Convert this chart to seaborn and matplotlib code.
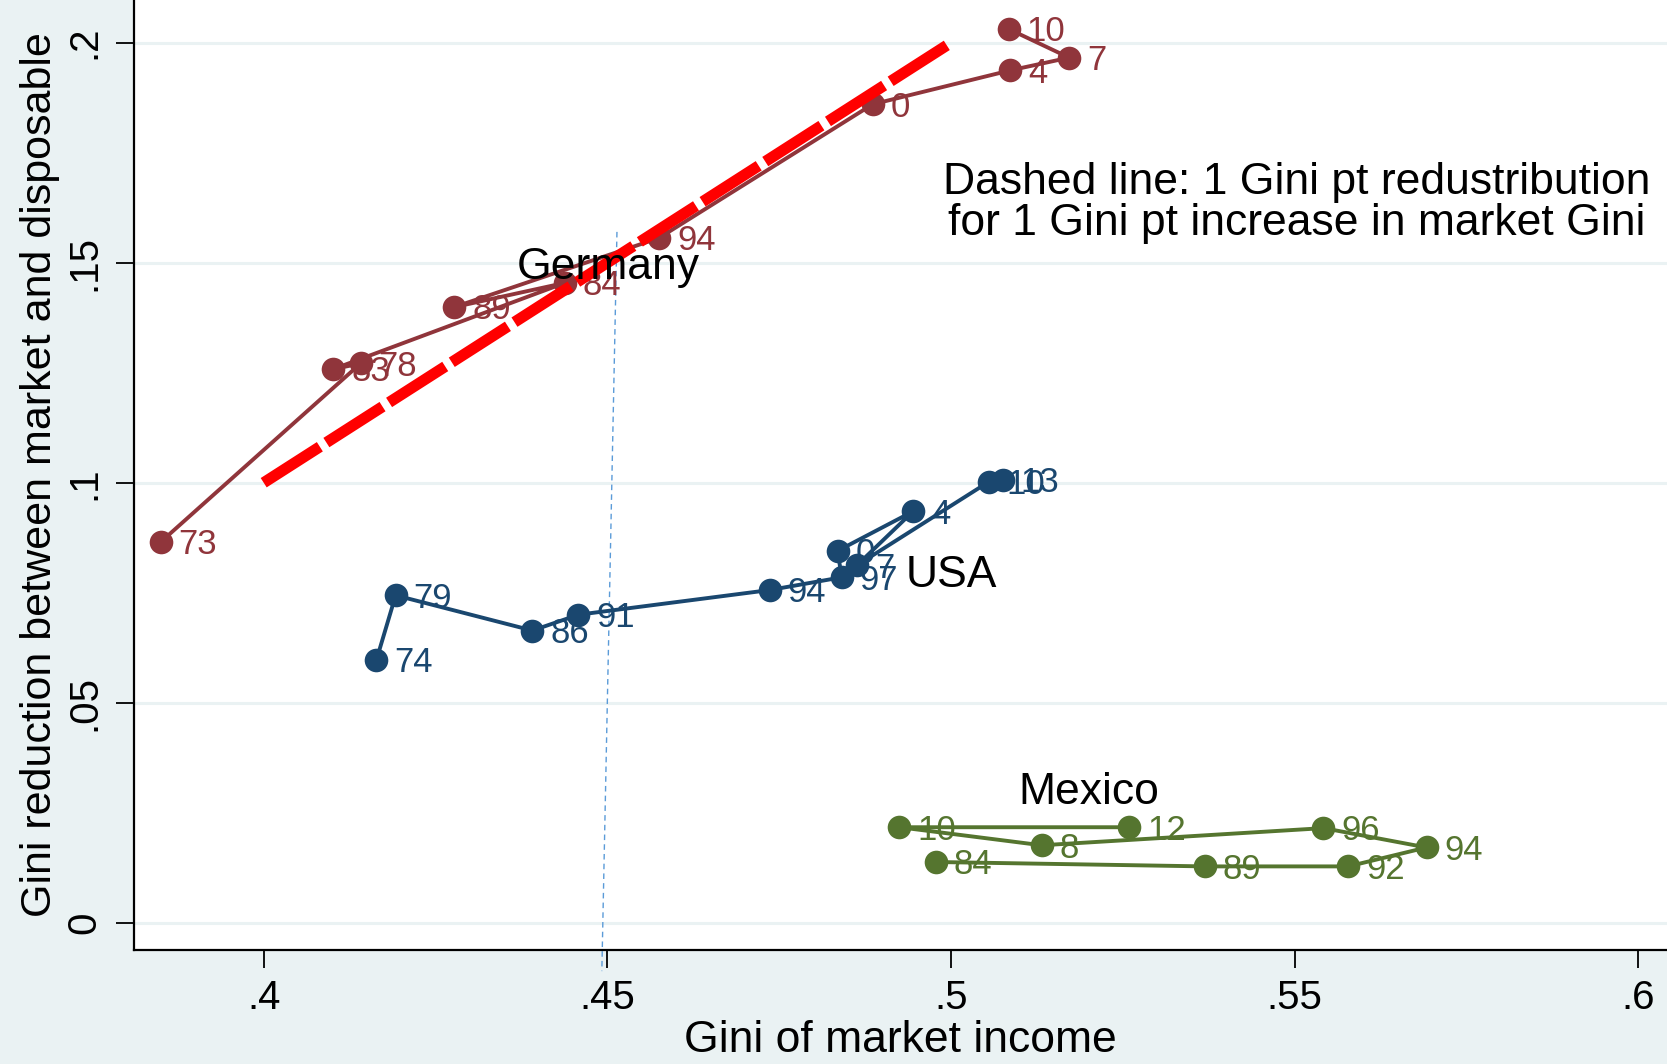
import pandas as pd
import numpy as np
import seaborn as sns
import matplotlib.pyplot as plt

# -------------------------------
# Data
# -------------------------------
germany_x = [0.3850, 0.4141, 0.4101, 0.4438, 0.4277, 0.4575, 0.4886, 0.5086, 0.5172, 0.5084]
germany_y = [0.0865, 0.1271, 0.1258, 0.1454, 0.1399, 0.1556, 0.1860, 0.1937, 0.1966, 0.2031]
germany_lab = ['73', '78', '83', '84', '89', '94', '0', '4', '7', '10']

usa_x = [0.4164, 0.4192, 0.4391, 0.4458, 0.4736, 0.4841, 0.4835, 0.4945, 0.4863, 0.5055, 0.5075]
usa_y = [0.0597, 0.0744, 0.0664, 0.0700, 0.0756, 0.0785, 0.0845, 0.0935, 0.0812, 0.1002, 0.1007]
usa_lab = ['74', '79', '86', '91', '94', '97', '0', '4', '7', '10', '13']

mexico_x = [0.4978, 0.5369, 0.5578, 0.5692, 0.5542, 0.5132, 0.4925, 0.5259]
mexico_y = [0.0138, 0.0128, 0.0128, 0.0171, 0.0215, 0.0176, 0.0217, 0.0217]
mexico_lab = ['84', '89', '92', '94', '96', '8', '10', '12']

# 1 Gini pt redistribution per 1 Gini pt market Gini
ref_x = [0.40, 0.50]
ref_y = [0.10, 0.20]

# thin blue guide line near .45
guide_x = [0.4514, 0.4492]
guide_y = [0.157, -0.011]

x_ticks = [0.4, 0.45, 0.5, 0.55, 0.6]
x_ticklabels = ['.4', '.45', '.5', '.55', '.6']
y_ticks = [0, 0.05, 0.1, 0.15, 0.2]
y_ticklabels = ['0', '.05', '.1', '.15', '.2']

colors = {'Germany': '#90353B', 'USA': '#1A476F', 'Mexico': '#55752F'}

# -------------------------------
# Build table
# -------------------------------
frames = []
for name, xs, ys, labs in [('Germany', germany_x, germany_y, germany_lab),
                           ('USA', usa_x, usa_y, usa_lab),
                           ('Mexico', mexico_x, mexico_y, mexico_lab)]:
    frames.append(pd.DataFrame({'country': name, 'market': xs, 'reduction': ys, 'year': labs}))
df = pd.concat(frames, ignore_index=True)

# -------------------------------
# Plot
# -------------------------------
sns.set_style('white')
plt.rcParams['font.family'] = ['Liberation Sans', 'DejaVu Sans']
plt.rcParams['text.color'] = 'black'
plt.rcParams['axes.labelcolor'] = 'black'
plt.rcParams['xtick.color'] = 'black'
plt.rcParams['ytick.color'] = 'black'

bg = '#EAF2F3'
fig = plt.figure(figsize=(16.67, 10.64), dpi=100, facecolor=bg)
ax = fig.add_axes([134 / 1667, 1 - 950 / 1064, 1 - 134 / 1667, 950 / 1064])
ax.set_facecolor('white')

for y in y_ticks:
    ax.axhline(y, color=bg, lw=2.2, zorder=0)

sns.lineplot(data=df, x='market', y='reduction', hue='country', palette=colors,
             sort=False, estimator=None, marker='o', markersize=17, markeredgewidth=0,
             linewidth=2.8, legend=False, ax=ax, zorder=3)

for _, r in df.iterrows():
    ax.annotate(r['year'], (r['market'], r['reduction']), xytext=(13, -2),
                textcoords='offset points', ha='left', va='center',
                fontsize=25, color=colors[r['country']], zorder=4)

ax.plot(ref_x, ref_y, color='red', lw=8, dashes=(6, 0.7),
        solid_capstyle='butt', dash_capstyle='butt', zorder=5)
ax.plot(guide_x, guide_y, color='#5B9BD8', lw=1, dashes=(4, 3), clip_on=False, zorder=2)

ax.text(0.4501, 0.149, 'Germany', fontsize=32, ha='center', va='center', zorder=6)
ax.text(0.5, 0.0790, 'USA', fontsize=32, ha='center', va='center', zorder=6)
ax.text(0.52, 0.0295, 'Mexico', fontsize=32, ha='center', va='center', zorder=6)
ax.text(0.5503, 0.1635, 'Dashed line: 1 Gini pt redustribution\nfor 1 Gini pt increase in market Gini',
        fontsize=32, ha='center', va='center', linespacing=1.0, zorder=6)

ax.set_xlim(0.38113, 0.60418)
ax.set_ylim(-0.0062, 0.2097)
ax.set_xticks(x_ticks)
ax.set_xticklabels(x_ticklabels)
ax.set_yticks(y_ticks)
ax.set_yticklabels(y_ticklabels, rotation=90, va='center')
ax.tick_params(axis='both', direction='out', length=13, width=1.3, color='black',
               labelsize=29, bottom=True, left=True)
ax.tick_params(axis='x', pad=8)
ax.tick_params(axis='y', pad=9)

ax.set_xlabel('Gini of market income', fontsize=32, labelpad=2)
ax.set_ylabel('Gini reduction between market and disposable', fontsize=31, labelpad=4)

for s in ['top', 'right']:
    ax.spines[s].set_visible(False)
for s in ['left', 'bottom']:
    ax.spines[s].set_color('black')
    ax.spines[s].set_linewidth(1.6)

fig.savefig('out.png', dpi=100, facecolor=bg)
